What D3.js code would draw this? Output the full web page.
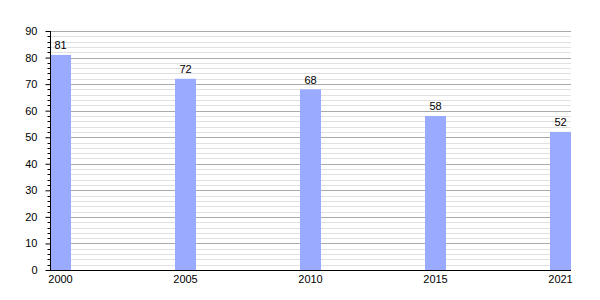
<!DOCTYPE html>
<html>
<head>
<meta charset="utf-8">
<script src="https://cdn.jsdelivr.net/npm/d3@7"></script>
<style>
  body { margin: 0; background: #fff; }
  text { font-family: "Liberation Sans", Arial, sans-serif; font-size: 11px; fill: #000; }
</style>
</head>
<body>
<div id="container"></div>
<script>
/* DATA */
const years = ["2000", "2005", "2010", "2015", "2021"];
const values = [81, 72, 68, 58, 52];
const yTicks = [0, 10, 20, 30, 40, 50, 60, 70, 80, 90];

/* CONSTANTS */
const width = 600, height = 300,
  margin = { top: 31, bottom: 30, left: 50, right: 29 };

const svg = d3.select("#container").append("svg")
  .attr("width", width)
  .attr("height", height);

// SCALES
const xScale = d3.scaleBand()
  .domain(years)
  .range([margin.left, width - margin.right])
  .paddingInner(0.832)
  .paddingOuter(0);

const yScale = d3.scaleLinear()
  .domain([0, 90])
  .range([height - margin.bottom, margin.top]);

const minorTicks = d3.range(0, 91, 2).filter(d => d % 10 !== 0);

// GRID
svg.append("g").selectAll("line.minor")
  .data(minorTicks).join("line")
  .attr("x1", margin.left).attr("x2", width - margin.right)
  .attr("y1", d => Math.round(yScale(d)) + 0.5).attr("y2", d => Math.round(yScale(d)) + 0.5)
  .attr("stroke", "#e0e0e0");

svg.append("g").selectAll("line.major")
  .data(yTicks.filter(d => d > 0)).join("line")
  .attr("x1", margin.left).attr("x2", width - margin.right)
  .attr("y1", d => Math.round(yScale(d)) + 0.5).attr("y2", d => Math.round(yScale(d)) + 0.5)
  .attr("stroke", "#aaaaaa");

// BARS
svg.append("g").selectAll("rect")
  .data(values).join("rect")
  .attr("x", (d, i) => xScale(years[i]))
  .attr("width", xScale.bandwidth())
  .attr("y", d => yScale(d))
  .attr("height", d => yScale(0) - yScale(d))
  .attr("fill", "#99aaff");

// VALUE LABELS
svg.append("g").selectAll("text")
  .data(values).join("text")
  .attr("x", (d, i) => xScale(years[i]) + xScale.bandwidth() / 2)
  .attr("y", d => yScale(d) - 5.5)
  .attr("text-anchor", "middle")
  .text(d => d);

// AXES
const yAxis = d3.axisLeft(yScale).tickValues(yTicks).tickSize(5).tickPadding(8);
const yAxisGroup = svg.append("g")
  .attr("transform", `translate(${margin.left + 0.5},0)`)
  .call(yAxis);
yAxisGroup.select(".domain").attr("d", `M0,${yScale(90)}V${yScale(0)}`).attr("stroke", "#000");
yAxisGroup.selectAll("text").style("font-size", "11px").attr("fill", "#000");

svg.append("g")
  .attr("transform", `translate(${margin.left + 0.5},0)`)
  .selectAll("line")
  .data(minorTicks).join("line")
  .attr("x1", -3).attr("x2", 0)
  .attr("y1", d => Math.round(yScale(d)) + 0.5).attr("y2", d => Math.round(yScale(d)) + 0.5)
  .attr("stroke", "#000");

const xAxis = d3.axisBottom(xScale).tickSize(0).tickPadding(5);
const xAxisGroup = svg.append("g")
  .attr("transform", `translate(0,${yScale(0) + 0.5})`)
  .call(xAxis);
xAxisGroup.select(".domain").attr("d", `M${margin.left},0H${width - margin.right}`).attr("stroke", "#000");
xAxisGroup.selectAll("text").style("font-size", "11px").attr("fill", "#000");
</script>
</body>
</html>
